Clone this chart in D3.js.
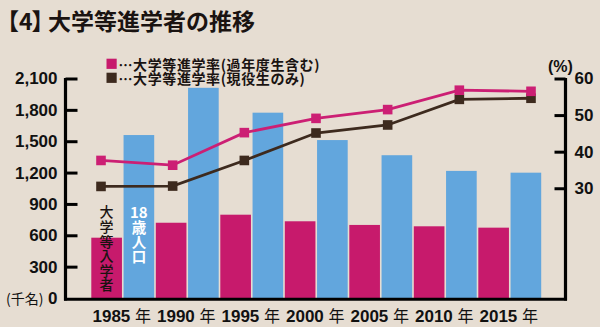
<!DOCTYPE html>
<html lang="ja">
<head>
<meta charset="utf-8">
<script src="https://cdn.jsdelivr.net/npm/d3@7"></script>
<style>
  html, body { margin: 0; padding: 0; background: #e6ddd2; }
  svg { display: block; }
  .num { font-family: "Liberation Sans", Arial, sans-serif; font-weight: bold; }
  .jp { font-family: "Noto Sans CJK JP", sans-serif; }
  .vert { writing-mode: vertical-rl; text-orientation: upright; }
  .palt { font-feature-settings: "palt" 1; }
</style>
</head>
<body>
<svg id="chart" width="600" height="327"></svg>
<script>
// Years on the x axis
const years = ["1985", "1990", "1995", "2000", "2005", "2010", "2015"];
// 大学等入学者 (千名)
const entrants = [577, 720, 797, 734, 699, 686, 673];
// 18歳人口 (千名)
const population18 = [1559, 2011, 1773, 1511, 1366, 1216, 1199];
// 大学等進学率 (過年度生含む) %
const rateAll = [37.6, 36.3, 45.2, 49.1, 51.5, 56.8, 56.5];
// 大学等進学率 (現役生のみ) %
const rateCurrent = [30.5, 30.6, 37.6, 45.1, 47.3, 54.3, 54.6];
// Axis tick values
const leftTicks = [0, 300, 600, 900, 1200, 1500, 1800, 2100];
const rightTicks = [30, 40, 50, 60];

const PINK = "#c71a6c";
const BLUE = "#62a6dd";
const BROWN = "#3d2a1e";
const LINE_PINK = "#cc1f74";
const INK = "#1a1311";

const svg = d3.select("#chart");

// Title: proportional (half-width) brackets around the section number
const title = svg.append("text").attr("class", "jp")
  .attr("x", 8).attr("y", 30)
  .attr("font-size", 23).attr("font-weight", 700).attr("fill", INK);
title.append("tspan").attr("class", "palt").attr("x", 7).text("【");
title.append("tspan").attr("x", 19).text("4");
title.append("tspan").attr("class", "palt").attr("x", 32).text("】");
title.append("tspan").attr("x", 48).text("大学等進学者の推移");

// Scales
const yLeft = d3.scaleLinear().domain([0, 2100]).range([298, 78.5]);
const yRight = d3.scaleLinear().domain([0, 60]).range([298, 78.5]);
const x0 = d3.scaleBand().domain(years).range([90.5, 542]).padding(0);
const x1 = d3.scaleBand().domain(["entrants", "pop"]).range([0.8, x0.bandwidth() - 0.8]).paddingInner(0.05);
const xp = d3.scalePoint().domain(years).range([101, 531]);

// Bars
const barData = years.map((yr, i) => ({ year: yr, entrants: entrants[i], pop: population18[i] }));
const groups = svg.append("g").selectAll("g").data(barData).join("g")
  .attr("transform", d => `translate(${x0(d.year)},0)`);
groups.append("rect")
  .attr("x", x1("entrants")).attr("width", x1.bandwidth())
  .attr("y", d => yLeft(d.entrants)).attr("height", d => yLeft(0) - yLeft(d.entrants))
  .attr("fill", PINK);
groups.append("rect")
  .attr("x", x1("pop")).attr("width", x1.bandwidth())
  .attr("y", d => yLeft(d.pop)).attr("height", d => yLeft(0) - yLeft(d.pop))
  .attr("fill", BLUE);

// Vertical series labels on the first pair of bars
svg.append("text").attr("class", "jp vert")
  .attr("x", x0(years[0]) + x1("entrants") + x1.bandwidth() / 2)
  .attr("y", 205)
  .attr("font-size", 14).attr("font-weight", 500).attr("fill", INK)
  .style("letter-spacing", "0.6px")
  .text("大学等入学者");

const popX = x0(years[0]) + x1("pop") + x1.bandwidth() / 2;
svg.append("text").attr("class", "jp")
  .attr("x", popX).attr("y", 211)
  .attr("text-anchor", "middle").attr("dominant-baseline", "central")
  .attr("font-size", 15).attr("font-weight", 700).attr("fill", "#fff")
  .text("18");
svg.append("text").attr("class", "jp vert")
  .attr("x", popX).attr("y", 220.5)
  .attr("font-size", 14.5).attr("font-weight", 700).attr("fill", "#fff")
  .text("歳人口");

// Rate lines with square markers
function drawSeries(values, color) {
  const pts = years.map((yr, i) => [xp(yr), yRight(values[i])]);
  svg.append("path")
    .attr("d", d3.line()(pts))
    .attr("fill", "none").attr("stroke", color).attr("stroke-width", 2.8);
  svg.append("g").selectAll("rect").data(pts).join("rect")
    .attr("x", d => d[0] - 4.8).attr("y", d => d[1] - 4.8)
    .attr("width", 9.6).attr("height", 9.6)
    .attr("fill", color);
}
drawSeries(rateCurrent, BROWN);
drawSeries(rateAll, LINE_PINK);

// Axes
const axisLeft = d3.axisLeft(yLeft).tickValues(leftTicks)
  .tickSizeInner(-12).tickSizeOuter(0).tickPadding(8)
  .tickFormat(d => d === 0 ? "0" : d3.format(",")(d));
const gL = svg.append("g").attr("transform", "translate(65.5,0)").call(axisLeft);

const axisRight = d3.axisRight(yRight).tickValues(rightTicks)
  .tickSizeInner(-11).tickSizeOuter(0).tickPadding(9);
const gR = svg.append("g").attr("transform", "translate(565.5,0)").call(axisRight);

[gL, gR].forEach(g => {
  g.select(".domain").attr("stroke", "#000").attr("stroke-width", 3.2)
    .attr("d", `M0,${yLeft(2100) - 0.5}V${yLeft(0) + 2.5}`);
  g.selectAll(".tick line").attr("stroke", "#000").attr("stroke-width", 3);
  g.selectAll(".tick text").attr("class", "num").attr("font-size", 17).attr("fill", "#111");
});
gL.selectAll(".tick").filter(d => d === 0).select("line").remove();

// Baseline
svg.append("line")
  .attr("x1", 64).attr("x2", 567)
  .attr("y1", 299.3).attr("y2", 299.3)
  .attr("stroke", "#000").attr("stroke-width", 3);

// Unit labels
svg.append("text").attr("class", "jp")
  .attr("x", 6).attr("y", 298).attr("dominant-baseline", "central")
  .attr("font-size", 14).attr("fill", "#111").text("(千名)");
svg.append("text").attr("class", "num")
  .attr("x", 548).attr("y", 66).attr("dominant-baseline", "central")
  .attr("font-size", 16).attr("font-weight", 400).attr("fill", "#111").text("(%)");

// X axis labels
const xl = svg.append("g").selectAll("text").data(years).join("text")
  .attr("x", d => x0(d) + x0.bandwidth() / 2 - 1)
  .attr("y", 322).attr("text-anchor", "middle").attr("fill", "#111");
xl.append("tspan").attr("class", "num").attr("font-size", 17).text(d => d + " ");
xl.append("tspan").attr("class", "jp").attr("font-size", 16).attr("font-weight", 400).text("年");

// Legend
const legendItems = [
  { color: PINK, label: "…大学等進学率(過年度生含む)" },
  { color: BROWN, label: "…大学等進学率(現役生のみ)" }
];
const lg = svg.append("g").selectAll("g").data(legendItems).join("g")
  .attr("transform", (d, i) => `translate(106.5,${58.7 + i * 14})`);
lg.append("rect").attr("width", 10.2).attr("height", 10.2).attr("fill", d => d.color);
lg.append("text").attr("class", "jp")
  .attr("x", 12).attr("y", 5.6).attr("dominant-baseline", "central")
  .attr("font-size", 14).attr("font-weight", 700).attr("fill", INK)
  .style("letter-spacing", "0.6px")
  .text(d => d.label);
</script>
</body>
</html>
